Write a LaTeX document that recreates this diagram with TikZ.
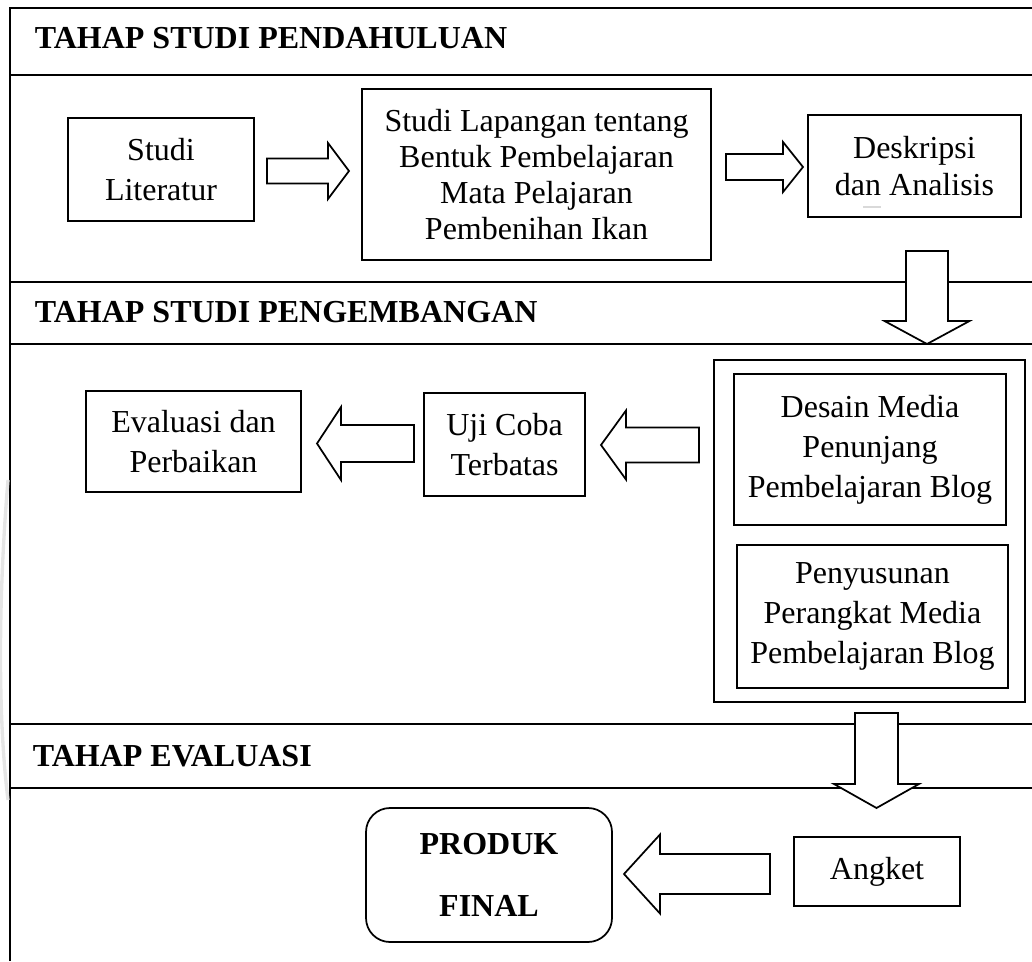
\documentclass[tikz,border=0pt]{standalone}
\usepackage{fontspec}
\setmainfont{Liberation Serif}
% block arrow: tail point, angle, length, head length, shaft half width, head half width
\newcommand{\blockarrow}[6]{%
\draw[blk,shift={#1},rotate=#2] (0,-#5) -- (#3-#4,-#5) -- (#3-#4,-#6) -- (#3,0)
 -- (#3-#4,#6) -- (#3-#4,#5) -- (0,#5) -- cycle;}
\begin{document}
\begin{tikzpicture}[x=0.75pt,y=-0.75pt,line width=1.3pt,
box/.style={draw,align=center,inner sep=0pt,font=\fontsize{24}{30}\selectfont},
head/.style={anchor=base west,inner sep=0pt,font=\fontsize{24}{30}\selectfont\bfseries},
blk/.style={draw,fill=white,line join=miter}]
\useasboundingbox (0,0) rectangle (1032,961);
\draw (10,961) -- (10,8) -- (1032,8);
\foreach \y in {75,282,344,724,788}{
\draw (10,\y) -- (1032,\y);
}
\draw[gray!20,line width=2.5pt] (8,480) .. controls (-2,600) and (-2,720) .. (8,800);
\node[head] (tahap1) at (34,48) {TAHAP STUDI PENDAHULUAN};
\node[head] (tahap2) at (34,322) {TAHAP STUDI PENGEMBANGAN};
\node[head] (tahap3) at (32,766) {TAHAP EVALUASI};
% tahap studi pendahuluan
\node[box,minimum width=139.5pt,minimum height=77.25pt] (literatur) at (161,169.5) {Studi\\Literatur};
\node[box,minimum width=261.75pt,minimum height=128.25pt,font=\fontsize{24}{27}\selectfont] (lapangan) at (536.5,174.5) {Studi Lapangan tentang\\Bentuk Pembelajaran\\Mata Pelajaran\\Pembenihan Ikan};
\node[box,minimum width=159.75pt,minimum height=76.5pt,font=\fontsize{24}{27.75}\selectfont] (deskripsi) at (914.5,166) {Deskripsi\\dan Analisis};
\draw[gray!30,line width=0.8pt] (863,207) -- (881,207);
\blockarrow{(267,171)}{0}{82}{21}{12.5}{28}
\blockarrow{(726,167)}{0}{77}{20}{13}{25}
\blockarrow{(927,251)}{-90}{93}{23}{21}{42.5}
% tahap studi pengembangan
\node[box,minimum width=161.25pt,minimum height=75.75pt] (evaluasi) at (193.5,441.5) {Evaluasi dan\\Perbaikan};
\node[box,minimum width=120.75pt,minimum height=77.25pt] (ujicoba) at (504.5,444.5) {Uji Coba\\Terbatas};
\node[box,minimum width=233.25pt,minimum height=256.5pt] (media) at (869.5,531) {};
\node[box,minimum width=204pt,minimum height=113.25pt] (desain) at (870,449.5) {Desain Media\\Penunjang\\Pembelajaran Blog};
\node[box,minimum width=203.25pt,minimum height=107.25pt] (susun) at (872.5,616.5) {Penyusunan\\Perangkat Media\\Pembelajaran Blog};
\blockarrow{(414,443.5)}{180}{97}{24}{18.5}{36.5}
\blockarrow{(699,445)}{180}{98}{25}{17.5}{34.5}
\blockarrow{(876.5,713)}{-90}{95}{24}{21.5}{42.5}
% tahap evaluasi
\node[box,minimum width=184.5pt,minimum height=100.5pt,rounded corners=18pt,font=\fontsize{24}{46.5}\selectfont\bfseries] (produk) at (489,875) {PRODUK\\FINAL};
\node[box,minimum width=124.5pt,minimum height=51.75pt] (angket) at (877,871.5) {Angket};
\blockarrow{(770,874)}{180}{146}{36}{20}{39.5}
\end{tikzpicture}
\end{document}
